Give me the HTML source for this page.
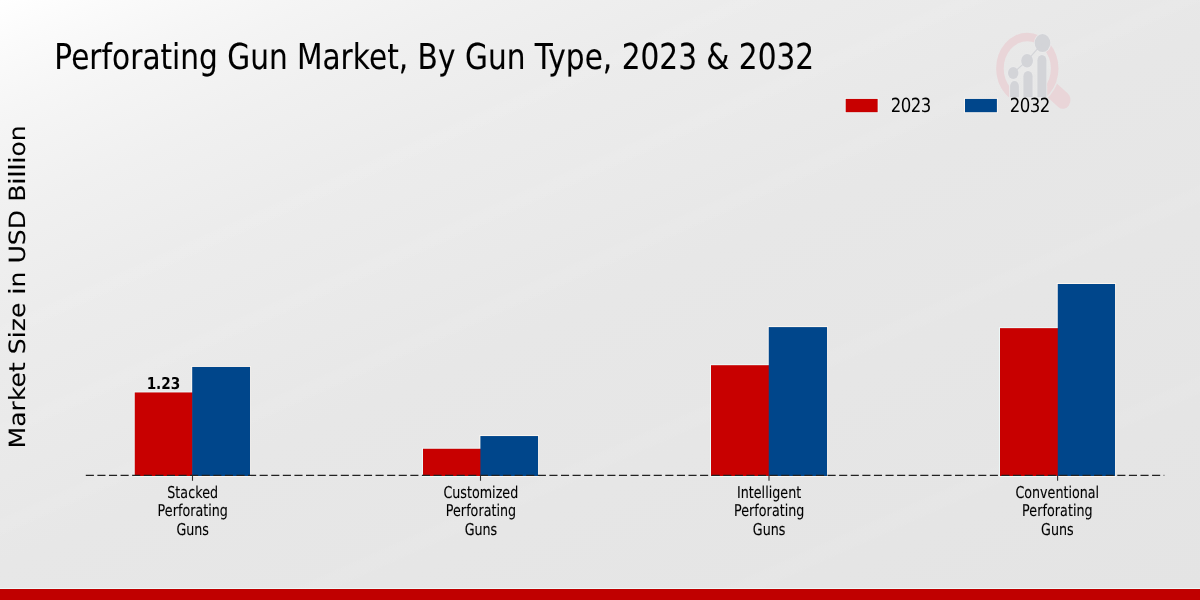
<!DOCTYPE html>
<html lang="en"><head><meta charset="utf-8">
<title>Perforating Gun Market, By Gun Type, 2023 &amp; 2032</title>
<style>
html,body{margin:0;padding:0;width:1200px;height:600px;overflow:hidden;background:#e8e8e9;}
#chart{position:absolute;left:0;top:0;width:1200px;height:600px;background:linear-gradient(156deg,rgba(255,255,255,0) 0%,rgba(255,255,255,0) 28.20%,rgba(255,255,255,0.060) 29.40%,rgba(255,255,255,0) 30.60%,rgba(255,255,255,0) 36.90%,rgba(255,255,255,0.060) 38.10%,rgba(255,255,255,0) 39.30%,rgba(255,255,255,0) 45.30%,rgba(255,255,255,0.060) 46.50%,rgba(255,255,255,0) 47.70%,rgba(255,255,255,0) 63.00%,rgba(255,255,255,0.060) 64.20%,rgba(255,255,255,0) 65.40%,rgba(255,255,255,0) 79.80%,rgba(255,255,255,0.060) 81.00%,rgba(255,255,255,0) 82.20%,rgba(255,255,255,0) 100%),linear-gradient(156deg,#ffffff 0%,#fbfbfb 4%,#f6f6f6 9.7%,#f4f4f4 12.6%,#f0f0f0 19.3%,#ececec 28.4%,#e9e9e9 42%,#e7e7e7 50%,#e4e4e4 100%);}
svg{position:absolute;left:0;top:0;display:block;}
text{font-family:"DejaVu Sans", "Liberation Sans", sans-serif;fill:#000;text-rendering:geometricPrecision;white-space:pre;}
</style></head><body>
<div id="chart">
<svg width="1200" height="600" viewBox="0 0 1200 600">
<defs>
<clipPath id="ringclip"><path d="M980 20H1080V97.6H1047.2V86H1009.4V97.6H980Z"/></clipPath>
<mask id="handlemask" maskUnits="userSpaceOnUse" x="-80" y="-80" width="160" height="160"><rect x="-80" y="-80" width="160" height="160" fill="#fff"/><circle cx="0" cy="0" r="37.4" fill="#000"/></mask>
</defs>
<g id="logo">
<path clip-path="url(#ringclip)" fill="#e9d5d8" fill-rule="evenodd" d="M996.1 68.5a31.2 35.8 0 1 0 62.4 0a31.2 35.8 0 1 0 -62.4 0ZM1003.7 68.5a23.6 27.3 0 1 0 47.2 0a23.6 27.3 0 1 0 -47.2 0Z"/>
<g transform="translate(1027.3 68.5) scale(0.871 1)"><g mask="url(#handlemask)"><line x1="24" y1="18.2" x2="40.9" y2="31.6" stroke="#e9d5d8" stroke-width="17.4" stroke-linecap="round"/></g></g>
<path fill="#d3d4d8" stroke="#eaeaeb" stroke-width="1.4" paint-order="stroke" d="M1010.10 97.3V86.05A4.40 5.05 0 0 1 1018.90 86.05V97.3Z"/>
<path fill="#d3d4d8" stroke="#eaeaeb" stroke-width="1.4" paint-order="stroke" d="M1023.40 97.3V76.28A4.60 5.28 0 0 1 1032.60 76.28V97.3Z"/>
<path fill="#d3d4d8" stroke="#eaeaeb" stroke-width="1.4" paint-order="stroke" d="M1037.40 97.3V60.17A4.50 5.17 0 0 1 1046.40 60.17V97.3Z"/>
<ellipse cx="1013.20" cy="73.00" rx="5.20" ry="6.00" fill="#d3d4d8" stroke="#eaeaeb" stroke-width="1.6" paint-order="stroke"/>
<ellipse cx="1027.10" cy="60.70" rx="5.90" ry="6.70" fill="#d3d4d8" stroke="#eaeaeb" stroke-width="1.6" paint-order="stroke"/>
<ellipse cx="1042.50" cy="43.05" rx="7.80" ry="9.05" fill="#d3d4d8" stroke="#eaeaeb" stroke-width="1.6" paint-order="stroke"/>
<polyline fill="none" stroke="#d3d4d8" stroke-width="1.2" points="1013.2,73 1027.1,60.7 1042.5,43.05"/>
</g>
<g id="bars">
<rect x="134.75" y="392.45" width="58.05" height="83.55" fill="none" stroke="rgba(238,252,252,0.8)" stroke-width="2"/>
<rect x="192.20" y="366.95" width="57.85" height="109.05" fill="none" stroke="rgba(255,249,242,0.8)" stroke-width="2"/>
<rect x="423.00" y="448.75" width="58.00" height="27.25" fill="none" stroke="rgba(238,252,252,0.8)" stroke-width="2"/>
<rect x="480.40" y="436.05" width="57.65" height="39.95" fill="none" stroke="rgba(255,249,242,0.8)" stroke-width="2"/>
<rect x="711.00" y="365.20" width="58.35" height="110.80" fill="none" stroke="rgba(238,252,252,0.8)" stroke-width="2"/>
<rect x="768.75" y="327.10" width="58.30" height="148.90" fill="none" stroke="rgba(255,249,242,0.8)" stroke-width="2"/>
<rect x="1000.00" y="328.15" width="58.35" height="147.85" fill="none" stroke="rgba(238,252,252,0.8)" stroke-width="2"/>
<rect x="1057.75" y="284.00" width="57.30" height="192.00" fill="none" stroke="rgba(255,249,242,0.8)" stroke-width="2"/>
<rect x="134.75" y="392.45" width="58.05" height="83.55" fill="#c80000"/>
<rect x="192.20" y="366.95" width="57.85" height="109.05" fill="#00468b"/>
<rect x="423.00" y="448.75" width="58.00" height="27.25" fill="#c80000"/>
<rect x="480.40" y="436.05" width="57.65" height="39.95" fill="#00468b"/>
<rect x="711.00" y="365.20" width="58.35" height="110.80" fill="#c80000"/>
<rect x="768.75" y="327.10" width="58.30" height="148.90" fill="#00468b"/>
<rect x="1000.00" y="328.15" width="58.35" height="147.85" fill="#c80000"/>
<rect x="1057.75" y="284.00" width="57.30" height="192.00" fill="#00468b"/>
</g>
<line x1="85.8" y1="475.40" x2="1164.3" y2="475.40" stroke="#222" stroke-width="1.15" stroke-dasharray="8.1 3.49"/>
<line x1="192.50" y1="475.40" x2="192.50" y2="480.80" stroke="#333" stroke-width="1.1"/>
<line x1="480.50" y1="475.40" x2="480.50" y2="480.80" stroke="#333" stroke-width="1.1"/>
<line x1="769.00" y1="475.40" x2="769.00" y2="480.80" stroke="#333" stroke-width="1.1"/>
<line x1="1057.60" y1="475.40" x2="1057.60" y2="480.80" stroke="#333" stroke-width="1.1"/>
<rect x="845.7" y="98.9" width="31.95" height="13.3" fill="#c80000" stroke="rgba(238,252,252,0.8)" stroke-width="2" paint-order="stroke"/>
<rect x="965.0" y="98.9" width="31.9" height="13.3" fill="#00468b" stroke="rgba(255,249,242,0.8)" stroke-width="2" paint-order="stroke"/>
<text transform="translate(54.30 68.75) scale(0.8521 1.0250)" font-size="34.722" font-weight="normal" x="0 19.75 41.125 55.5 67.75 89 103.375 124.625 138.25 147.875 169.875 191.875 202.875 229.875 251.875 273.875 284.875 314.75 336 350.375 369.25 390.625 404.25 415.375 426.375 450.25 470.875 481.875 508.875 530.875 552.875 563.875 579.625 600.25 622.375 643.75 654.875 665.875 688 710 732.125 754.25 765.25 792.375 803.375 825.5 847.5 869.625" y="0" stroke="#000" stroke-width="0.10">Perforating Gun Market, By Gun Type, 2023 &amp; 2032</text>
<text transform="translate(890.65 112.00) scale(0.8521 1.0000)" font-size="19.444" font-weight="normal" x="0 11.855 23.591 35.446" y="0">2023</text>
<text transform="translate(1009.65 112.00) scale(0.8521 1.0000)" font-size="19.444" font-weight="normal" x="0 11.855 23.591 35.446" y="0">2032</text>
<text transform="translate(163.50 388.70) scale(0.8200 0.9800)" font-size="16.667" font-weight="bold" x="-20.562 -9.062 -2.688 8.938" y="0">1.23</text>
<text transform="translate(192.70 497.70) scale(0.8310 1.0650)" font-size="15.278" font-weight="normal" x="-30.625 -20.875 -14.875 -5.5 3 11.375 20.875" y="0" stroke="#000" stroke-width="0.10">Stacked</text>
<text transform="translate(192.70 516.40) scale(0.8310 1.0650)" font-size="15.278" font-weight="normal" x="-42.375 -33.625 -24.125 -17.75 -12.375 -3 3.375 12.75 18.75 23 32.625" y="0" stroke="#000" stroke-width="0.10">Perforating</text>
<text transform="translate(192.70 535.10) scale(0.8310 1.0650)" font-size="15.278" font-weight="normal" x="-19.562 -7.688 1.938 11.562" y="0" stroke="#000" stroke-width="0.10">Guns</text>
<text transform="translate(480.90 497.70) scale(0.8310 1.0650)" font-size="15.278" font-weight="normal" x="-45 -34.375 -24.75 -16.75 -10.75 -1.375 13.5 17.75 25.75 35.25" y="0" stroke="#000" stroke-width="0.10">Customized</text>
<text transform="translate(480.90 516.40) scale(0.8310 1.0650)" font-size="15.278" font-weight="normal" x="-42.375 -33.625 -24.125 -17.75 -12.375 -3 3.375 12.75 18.75 23 32.625" y="0" stroke="#000" stroke-width="0.10">Perforating</text>
<text transform="translate(480.90 535.10) scale(0.8310 1.0650)" font-size="15.278" font-weight="normal" x="-19.562 -7.688 1.938 11.562" y="0" stroke="#000" stroke-width="0.10">Guns</text>
<text transform="translate(769.10 497.70) scale(0.8310 1.0650)" font-size="15.278" font-weight="normal" x="-38.625 -34.125 -24.5 -18.5 -9 -4.75 -0.5 3.75 13.5 23 32.625" y="0" stroke="#000" stroke-width="0.10">Intelligent</text>
<text transform="translate(769.10 516.40) scale(0.8310 1.0650)" font-size="15.278" font-weight="normal" x="-42.375 -33.625 -24.125 -17.75 -12.375 -3 3.375 12.75 18.75 23 32.625" y="0" stroke="#000" stroke-width="0.10">Perforating</text>
<text transform="translate(769.10 535.10) scale(0.8310 1.0650)" font-size="15.278" font-weight="normal" x="-19.562 -7.688 1.938 11.562" y="0" stroke="#000" stroke-width="0.10">Guns</text>
<text transform="translate(1057.30 497.70) scale(0.8310 1.0650)" font-size="15.278" font-weight="normal" x="-50.312 -39.688 -30.312 -20.688 -11.688 -2.188 7.438 13.438 17.688 27.062 36.688 46.062" y="0" stroke="#000" stroke-width="0.10">Conventional</text>
<text transform="translate(1057.30 516.40) scale(0.8310 1.0650)" font-size="15.278" font-weight="normal" x="-42.375 -33.625 -24.125 -17.75 -12.375 -3 3.375 12.75 18.75 23 32.625" y="0" stroke="#000" stroke-width="0.10">Perforating</text>
<text transform="translate(1057.30 535.10) scale(0.8310 1.0650)" font-size="15.278" font-weight="normal" x="-19.562 -7.688 1.938 11.562" y="0" stroke="#000" stroke-width="0.10">Guns</text>
<text transform="translate(24.95 286.85) scale(0.8950 1.0030) rotate(-90)" font-size="25.000" font-weight="normal" x="-161.125 -139.5 -124.25 -113.875 -100.25 -84.875 -75.125 -67.125 -51.25 -44.25 -31 -15.625 -7.625 -0.625 15.25 23.25 41.5 57.375 76.75 84.75 102 109 116 123 130 145.25" y="0" stroke="#000" stroke-width="0.10">Market Size in USD Billion</text>
</svg>
<div style="position:absolute;left:0;top:588.7px;width:1200px;height:11.3px;background:#c00000;box-shadow:0 -1px 0 rgba(238,252,252,0.8)"></div>
</div></body></html>
